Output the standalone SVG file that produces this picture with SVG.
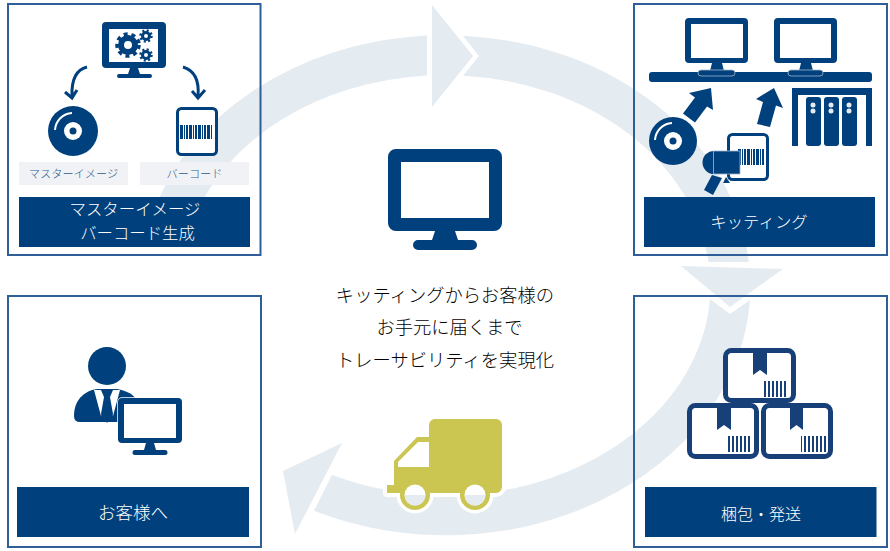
<svg xmlns="http://www.w3.org/2000/svg" width="890" height="551" viewBox="0 0 890 551">
<style>
.box{fill:none;stroke:#2f5f99;stroke-width:2}
.bar{fill:#00407c}
.d{fill:#00407c}
.w{fill:#fff}
.cap{fill:#fff;font-family:"Noto Sans CJK JP","Noto Sans",sans-serif;font-size:16.400px;font-weight:300;text-anchor:middle}
.sm{fill:#2d5c8c;font-family:"Noto Sans CJK JP","Noto Sans",sans-serif;font-size:11.200px;font-weight:300;text-anchor:middle}
.mid{fill:#000;font-family:"Noto Sans CJK JP","Noto Sans",sans-serif;font-size:18.300px;font-weight:300;text-anchor:middle}
.tag{fill:#f0f2f5}
.band{fill:#e4ebf1}
.ln{fill:none;stroke:#00407c;stroke-width:3}
.pk{fill:#fff;stroke:#173f78;stroke-width:5}
.pkd{fill:#173f78}
.tr{fill:#cbc552}
</style>
<defs>
<pattern id="bc" width="9" height="16" patternUnits="userSpaceOnUse">
<rect width="9" height="16" fill="#fff"/>
<rect x="0" width="3" height="16" fill="#00407c"/><rect x="4" width="1" height="16" fill="#00407c"/><rect x="6" width="2" height="16" fill="#00407c"/>
</pattern>
<pattern id="pb" width="4" height="16" patternUnits="userSpaceOnUse"><rect width="2" height="16" fill="#173f78"/></pattern>
</defs>

<g id="connectors">
<path class="band" d="M150.500,220 A305,250 0 0 1 427,35.500 L427,75.500 A265,210 0 0 0 193,220 Z"/>
<path class="band" d="M463,35.700 A305,250 0 0 1 748.700,262 L708.400,262 A265,210 0 0 0 463,75.700 L479,56 Z"/>
<path class="band" d="M750,300 A305,250 0 0 1 314,510.800 L332,475 A265,210 0 0 0 710,299 L730,314 Z"/>
<polygon class="band" points="432,5 473,56 432,107"/>
<polygon class="band" points="681,266 783,269 730,307"/>
<polygon class="band" points="342,443 283,471 295,534"/>
</g>

<g id="node-master">
<rect class="box" x="8" y="4" width="252.500" height="251"/>
<path class="d" fill-rule="evenodd" d="M106,22H162a4,4 0 0 1 4,4V64a4,4 0 0 1-4,4H106a4,4 0 0 1-4-4V26a4,4 0 0 1 4-4ZM109,29V62H158V29Z"/>
<path class="d" d="M130,68H138L140,74H150a2,2 0 0 1 0,4H119a2,2 0 0 1 0-4H128Z"/>
<circle cx="128" cy="45" r="7" fill="none" stroke="#00407c" stroke-width="6"/>
<circle cx="128" cy="45" r="11" fill="none" stroke="#00407c" stroke-width="3.500" stroke-dasharray="4 3.860"/>
<circle cx="146" cy="36" r="3.500" fill="none" stroke="#00407c" stroke-width="3"/>
<circle cx="146" cy="36" r="5.500" fill="none" stroke="#00407c" stroke-width="2.500" stroke-dasharray="2 2.320"/>
<circle cx="146" cy="55" r="3.500" fill="none" stroke="#00407c" stroke-width="3"/>
<circle cx="146" cy="55" r="5.500" fill="none" stroke="#00407c" stroke-width="2.500" stroke-dasharray="2 2.320"/>
<path class="ln" d="M87,67Q71,71 72,96M65,92L72,98L77,90"/>
<path class="ln" d="M183,67Q200,72 198,96M192,91L198,98L205,90"/>
<circle class="d" cx="73" cy="131" r="25"/>
<circle class="w" cx="73" cy="131" r="9"/>
<circle class="d" cx="73" cy="131" r="3.500"/>
<path d="M55,130A18,18 0 0 1 72,113" fill="none" stroke="#fff" stroke-width="2"/>
<rect x="177.500" y="108.500" width="39" height="46" rx="4" fill="#fff" stroke="#00407c" stroke-width="3"/>
<rect x="180" y="125" width="33" height="14" fill="url(#bc)"/>
<rect class="tag" x="19" y="162" width="109" height="23"/>
<rect class="tag" x="140" y="162" width="109" height="23"/>
<text class="sm" x="73.500" y="178">マスターイメージ</text>
<text class="sm" x="194.500" y="178">バーコード</text>
<rect class="bar" x="19" y="197" width="231" height="50"/>
<text class="cap" x="135" y="215">マスターイメージ</text>
<text class="cap" x="137.500" y="239">バーコード生成</text>
</g>

<g id="node-kitting">
<rect class="box" x="634" y="4" width="253" height="251"/>
<path class="d" fill-rule="evenodd" d="M689,18H744a4,4 0 0 1 4,4V59a4,4 0 0 1-4,4H689a4,4 0 0 1-4-4V22a4,4 0 0 1 4-4ZM691,24V58H743V24Z"/>
<path class="d" d="M712,63H722L724,71H710Z"/>
<path class="d" fill-rule="evenodd" d="M778,18H833a4,4 0 0 1 4,4V59a4,4 0 0 1-4,4H778a4,4 0 0 1-4-4V22a4,4 0 0 1 4-4ZM780,24V58H831V24Z"/>
<path class="d" d="M801,63H811L813,71H799Z"/>
<rect class="d" x="649" y="72" width="223" height="10" rx="3"/>
<rect class="d" x="698" y="70" width="37" height="6" rx="3" stroke="#9fb5cd" stroke-width=".8"/>
<rect class="d" x="788" y="70" width="35" height="6" rx="3" stroke="#9fb5cd" stroke-width=".8"/>
<polygon class="d" points="683,113.600 695,122.400 707,106.400 713,110 711,88 689,93 695,97.600"/>
<polygon class="d" points="757,124 770,127 776,105.500 783,108 774,88 756,99 763,102"/>
<path class="d" d="M792,88H872V146H866V95H798V146H792Z"/>
<rect class="d" x="806" y="97" width="15" height="49" rx="3"/>
<rect class="d" x="824" y="97" width="15" height="49" rx="3"/>
<rect class="d" x="842" y="97" width="15" height="49" rx="3"/>
<g fill="#e4ebf1">
<circle cx="813" cy="105" r="2.500"/><circle cx="813" cy="111" r="2.500"/>
<circle cx="831" cy="105" r="2.500"/><circle cx="831" cy="111" r="2.500"/>
<circle cx="849" cy="105" r="2.500"/><circle cx="849" cy="111" r="2.500"/>
</g>
<circle class="d" cx="673" cy="141" r="24"/>
<circle class="w" cx="673" cy="141" r="9"/>
<circle class="d" cx="673" cy="141" r="3.500"/>
<path d="M655,140A18,18 0 0 1 672,123" fill="none" stroke="#fff" stroke-width="2"/>
<rect x="728.500" y="134.500" width="39" height="45" rx="4" fill="#fff" stroke="#00407c" stroke-width="3"/>
<rect x="737" y="149" width="28" height="16" fill="url(#bc)"/>
<path class="d" d="M714,151A11.500,11.500 0 0 0 714,174Z"/>
<rect class="d" x="713.500" y="151" width="26.500" height="23" stroke="#9fb5cd" stroke-width=".8"/>
<polygon class="d" points="712,175 722,178 713,195 704,190"/>
<polygon class="d" points="726,177 730,183 723,183"/>
<rect class="bar" x="644" y="197" width="231" height="50"/>
<text class="cap" x="759" y="228">キッティング</text>
</g>

<g id="node-packing">
<rect class="box" x="634" y="296" width="253" height="251"/>
<rect class="pk" x="725.500" y="350.500" width="68" height="50" rx="6"/>
<rect class="pk" x="689.500" y="405.500" width="67" height="51" rx="6"/>
<rect class="pk" x="763.500" y="405.500" width="67" height="51" rx="6"/>
<polygon class="pkd" points="753,350 767,350 767,375 760,370 753,375"/>
<polygon class="pkd" points="717,405 731,405 731,430 724,425 717,430"/>
<polygon class="pkd" points="790,405 803,405 803,430 796.500,425 790,430"/>
<rect x="764" y="381" width="24" height="16" fill="url(#pb)"/>
<rect x="727" y="436" width="25" height="16" fill="url(#pb)"/>
<rect x="801" y="436" width="25" height="16" fill="url(#pb)"/>
<polygon class="w" points="757,404 763,404 760,409"/>
<rect class="bar" x="645" y="487" width="231.500" height="50"/>
<text class="cap" x="761" y="520" style="font-size:16px">梱包・発送</text>
</g>

<g id="node-customer">
<rect class="box" x="8" y="296" width="253" height="251"/>
<circle class="d" cx="107" cy="366" r="19"/>
<path class="d" d="M74,416C74,400 84,391 97,389H117C127,391 134,394 138,402L130,422H80Q74,422 74,416Z"/>
<polygon class="w" points="94,390 120,390 113,416 107,400 101,416"/>
<polygon class="d" points="101,390 113,390 110,397 113,414 107,423 101,414 104,397"/>
<path class="w" d="M122,398H178a4,4 0 0 1 4,4V439a4,4 0 0 1-4,4H122a4,4 0 0 1-4-4V402a4,4 0 0 1 4-4Z" stroke="#fff" stroke-width="1.500"/>
<path class="d" fill-rule="evenodd" d="M122,398H178a4,4 0 0 1 4,4V439a4,4 0 0 1-4,4H122a4,4 0 0 1-4-4V402a4,4 0 0 1 4-4ZM124,404V438H176V404Z"/>
<path class="d" d="M146,443H154L156,450H165a2.500,2.500 0 0 1 0,5H135a2.500,2.500 0 0 1 0-5H144Z"/>
<rect class="bar" x="17" y="487" width="232" height="50"/>
<text class="cap" x="133" y="519" style="font-size:17.500px">お客様へ</text>
</g>

<g id="node-center">
<path class="d" fill-rule="evenodd" d="M396,149H494a8,8 0 0 1 8,8V223a8,8 0 0 1-8,8H396a8,8 0 0 1-8-8V157a8,8 0 0 1 8-8ZM401,162V218H489V162Z"/>
<path class="d" d="M435,231H455L458,240H472a5,5 0 0 1 0,10H418a5,5 0 0 1 0-10H432Z"/>
<text class="mid" x="445" y="302">キッティングからお客様の</text>
<text class="mid" x="449.500" y="334">お手元に届くまで</text>
<text class="mid" x="445" y="367">トレーサビリティを実現化</text>
</g>

<g id="node-truck">
<path d="M435,419H496a6,6 0 0 1 6,6V487a6,6 0 0 1-6,6H387V485H394V461L417,437H429V425a6,6 0 0 1 6-6Z" fill="#fff" stroke="#fff" stroke-width="8" stroke-linejoin="round"/>
<circle class="w" cx="415" cy="495" r="18.500"/>
<circle class="w" cx="475" cy="495" r="18.500"/>
<path class="tr" d="M435,419H496a6,6 0 0 1 6,6V487a6,6 0 0 1-6,6H387V485H394V461L417,437H429V425a6,6 0 0 1 6-6Z"/>
<polygon class="w" points="429,442 418,442 398,462 398,467 429,467"/>
<circle class="tr" cx="415" cy="495" r="15"/>
<circle class="tr" cx="475" cy="495" r="15"/>
<circle class="w" cx="415" cy="495" r="10.500"/>
<circle class="w" cx="475" cy="495" r="10.500"/>
<path class="band" d="M404.500,495A10.500,10.500 0 0 0 425.500,495Z"/>
<path class="band" d="M464.500,495A10.500,10.500 0 0 0 485.500,495Z"/>
</g>
</svg>
